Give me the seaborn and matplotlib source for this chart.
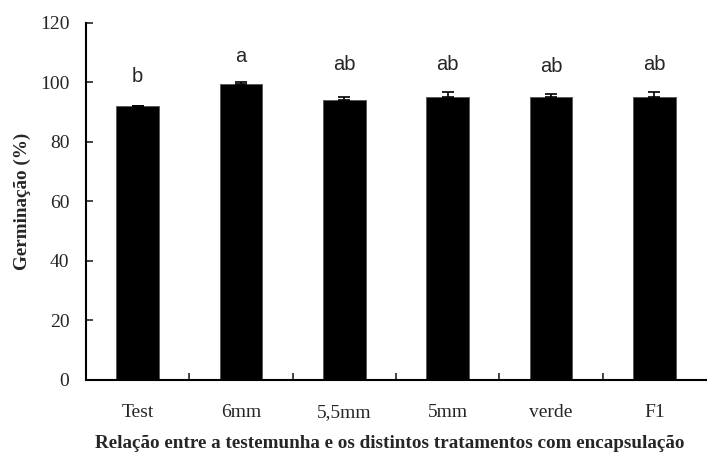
import numpy as np
import pandas as pd
import seaborn as sns
import matplotlib.pyplot as plt
from matplotlib.ticker import FixedLocator

# data
categories = ['Test', '6mm', '5,5mm', '5mm', 'verde', 'F1']
germination = [92.0, 99.4, 94.2, 95.1, 95.1, 95.1]
error_up = [0.0, 0.6, 0.8, 1.5, 0.9, 1.5]
letters = ['b', 'a', 'ab', 'ab', 'ab', 'ab']
letter_y = [102.0, 108.5, 106.0, 106.0, 105.3, 106.0]

df = pd.DataFrame({'trat': categories, 'germ': germination})

sns.set_style('white', {'xtick.bottom': True, 'ytick.left': True})
plt.rcParams['font.family'] = ['Liberation Serif', 'DejaVu Serif']

fig = plt.figure(figsize=(7.07, 4.54), dpi=100)
ax = fig.add_axes([0.1216, 0.163, 0.877, 0.787])

sns.barplot(data=df, x='trat', y='germ', color='black', width=0.41,
            saturation=1, edgecolor='#555555', linewidth=0.6, ax=ax)
ax.errorbar(np.arange(len(categories)), germination,
            yerr=[np.zeros(len(error_up)), error_up], fmt='none',
            ecolor='black', elinewidth=1.2, capsize=4, capthick=1.2)

# letras de significancia
for i, (lab, yy) in enumerate(zip(letters, letter_y)):
    ax.text(i, yy, lab, ha='center', va='center', fontsize=14.5,
            family=['Liberation Sans', 'DejaVu Sans'])

ax.set_xlim(-0.5, len(categories) - 0.5)
ax.set_ylim(0, 120)
ax.set_yticks(np.arange(0, 121, 20))
ax.tick_params(axis='y', direction='in', length=5, width=1.2, labelsize=14,
               pad=12, left=True)
ax.tick_params(axis='x', which='major', length=0, labelsize=14, pad=27)
ax.xaxis.set_minor_locator(FixedLocator(np.arange(0.5, len(categories) - 0.5, 1)))
ax.tick_params(axis='x', which='minor', direction='in', length=5, width=1.2,
               bottom=True)
for lab in ax.get_xticklabels():
    lab.set_verticalalignment('baseline')

for s in ['top', 'right']:
    ax.spines[s].set_visible(False)
for s in ['left', 'bottom']:
    ax.spines[s].set_linewidth(1.5)
    ax.spines[s].set_color('black')

ax.set_ylabel('Germinação (%)', fontsize=13.8, fontweight='bold')
ax.yaxis.set_label_coords(-0.088, 0.5)
ax.set_xlabel('Relação entre a testemunha e os distintos tratamentos com encapsulação',
              fontsize=13.8, fontweight='bold', labelpad=8)
ax.xaxis.set_label_coords(0.49, -0.155)

fig.savefig('out.png', dpi=100)
